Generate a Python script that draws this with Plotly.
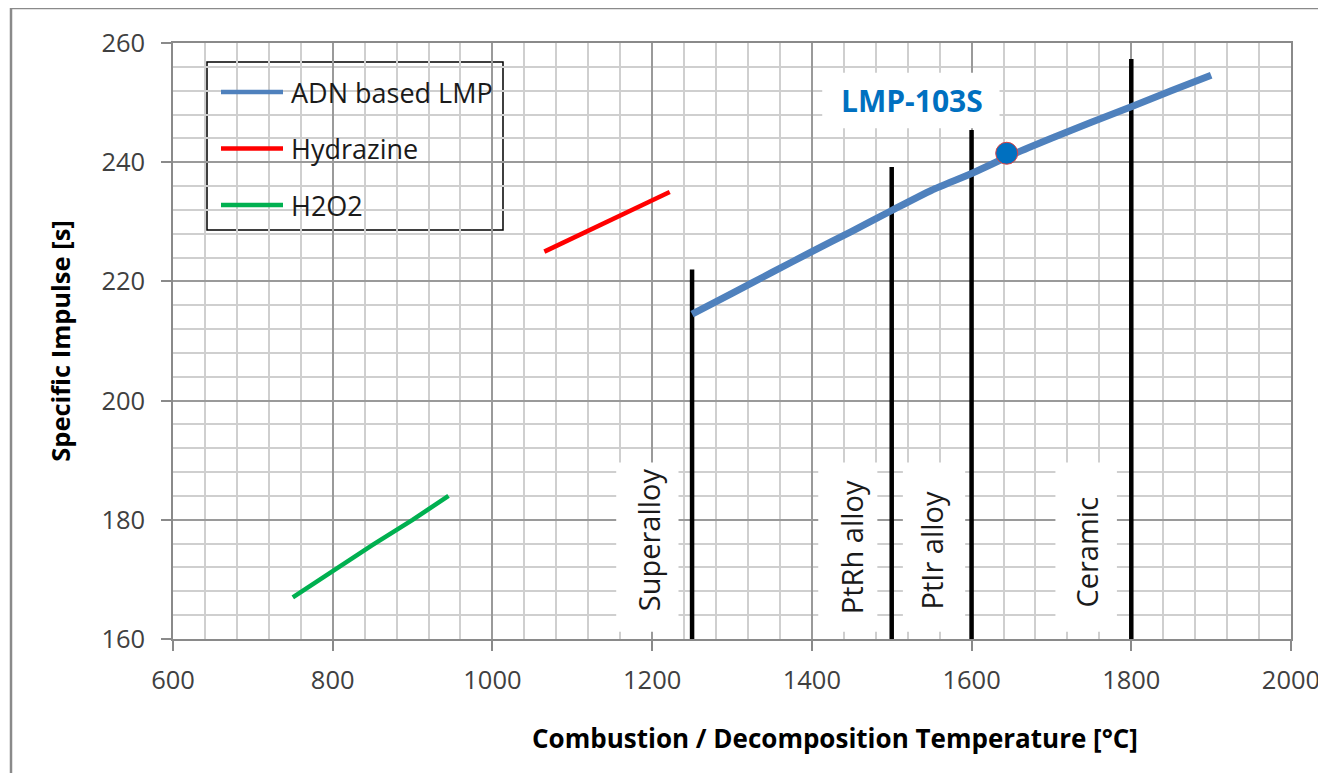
import plotly.graph_objects as go

# ---- data ----
adn_temp = [1250, 1300, 1350, 1400, 1450, 1500, 1550, 1600, 1650, 1700, 1750, 1800, 1850, 1900]
adn_isp = [214.5, 218.0, 221.5, 225.0, 228.4, 231.9, 235.3, 238.1, 241.2, 244.0, 246.7, 249.3, 252.0, 254.6]

hyd_temp = [1065, 1222]
hyd_isp = [225.0, 235.0]

h2o2_temp = [750, 800, 850, 900, 945]
h2o2_isp = [167.0, 171.5, 175.8, 180.0, 184.0]

lmp_temp = [1644]
lmp_isp = [241.5]
lmp_label = "LMP-103S"

limit_temp = [1250, 1500, 1600, 1800]
limit_top = [222.0, 239.2, 245.4, 257.3]
limit_names = ["Superalloy", "PtRh alloy", "PtIr alloy", "Ceramic"]
limit_label_x = [1195, 1449, 1550, 1744]
limit_label_y = [176.6, 175.4, 174.8, 174.6]
limit_box_x0 = [1155, 1408, 1514, 1705]
limit_box_x1 = [1233, 1482, 1592, 1782]

series_names = ["ADN based LMP", "Hydrazine", "H2O2"]
series_colors = ["#4F81BD", "#FF0000", "#00B050"]

x_ticks = [600, 800, 1000, 1200, 1400, 1600, 1800, 2000]
y_ticks = [160, 180, 200, 220, 240, 260]

FONT = "Open Sans"
Y0 = y_ticks[0]

fig = go.Figure()

# material limit lines
lx, ly = [], []
for t, top in zip(limit_temp, limit_top):
    lx += [t, t, None]
    ly += [Y0, top, None]
fig.add_trace(go.Scatter(x=lx, y=ly, mode="lines", line=dict(color="black", width=4.5),
                         showlegend=False, hoverinfo="skip"))

fig.add_trace(go.Scatter(x=h2o2_temp, y=h2o2_isp, mode="lines", name=series_names[2],
                         line=dict(color=series_colors[2], width=4.5), showlegend=False))
fig.add_trace(go.Scatter(x=hyd_temp, y=hyd_isp, mode="lines", name=series_names[1],
                         line=dict(color=series_colors[1], width=4.5), showlegend=False))
fig.add_trace(go.Scatter(x=adn_temp, y=adn_isp, mode="lines", name=series_names[0],
                         line=dict(color=series_colors[0], width=7, shape="spline", smoothing=0.6),
                         showlegend=False))
fig.add_trace(go.Scatter(x=lmp_temp, y=lmp_isp, mode="markers", name=lmp_label,
                         marker=dict(size=22, color="#0070C0", line=dict(color="#E04040", width=1)),
                         showlegend=False))

shapes = []
annotations = []

# white label boxes behind rotated texts
for x0, x1 in zip(limit_box_x0, limit_box_x1):
    shapes.append(dict(type="rect", xref="x", yref="y", x0=x0, x1=x1, y0=161.2, y1=189.6,
                       fillcolor="white", line=dict(width=0), layer="between"))
for name, x, y in zip(limit_names, limit_label_x, limit_label_y):
    annotations.append(dict(x=x, y=y, xref="x", yref="y", text=name, textangle=-90,
                            showarrow=False, font=dict(family=FONT, size=29, color="#1a1a1a")))

# LMP-103S label
shapes.append(dict(type="rect", xref="x", yref="y", x0=1413, x1=1635, y0=245.7, y1=255.0,
                   fillcolor="white", line=dict(width=0), layer="between"))
annotations.append(dict(x=1525, y=250.4, xref="x", yref="y", text="<b>" + lmp_label + "</b>",
                        showarrow=False, font=dict(family=FONT, size=30, color="#0070C0")))

# plot-area geometry (reference pixel coordinates; page has an 8px body margin)
OFF = 8
PL, PW, PT, PH = 173, 1118, 43, 596
def px(xp):
    return (xp - PL) / PW
def py(yp):
    return (PT + PH - yp) / PH

# manual legend
shapes.append(dict(type="rect", xref="paper", yref="paper", x0=px(207), x1=px(503),
                   y0=py(230), y1=py(62), fillcolor="white", line=dict(color="black", width=1.5),
                   layer="between"))
for i, (nm, col) in enumerate(zip(series_names, series_colors)):
    yy = 92 + i * 56.5
    shapes.append(dict(type="line", xref="paper", yref="paper", x0=px(221), x1=px(283),
                       y0=py(yy), y1=py(yy), line=dict(color=col, width=4.5), layer="above"))
    annotations.append(dict(x=px(289), y=py(yy), xref="paper", yref="paper", text=nm,
                            xanchor="left", yanchor="middle", showarrow=False,
                            font=dict(family=FONT, size=27, color="#1a1a1a")))

# x-axis title
annotations.append(dict(x=px(835), y=py(738), xref="paper", yref="paper",
                        text="<b>Combustion / Decomposition Temperature [°C]</b>",
                        showarrow=False, xanchor="center", yanchor="middle",
                        font=dict(family=FONT, size=26, color="#000000")))

# outer chart border
shapes.append(dict(type="rect", xref="paper", yref="paper", x0=px(11), x1=px(1340),
                   y0=py(795), y1=py(8), line=dict(color="#8a8a8a", width=2.5),
                   fillcolor="rgba(0,0,0,0)", layer="below"))

W, H = 1326 - 2 * OFF + 3, 781 - 2 * OFF
fig.update_layout(
    width=W, height=H,
    margin=dict(l=PL - OFF, r=W - (PL - OFF) - PW, t=PT - OFF, b=H - (PT - OFF) - PH,
                autoexpand=False),
    paper_bgcolor="white", plot_bgcolor="white",
    showlegend=False,
    font=dict(family=FONT, size=26, color="#404040"),
    shapes=shapes, annotations=annotations,
    xaxis=dict(range=[600, 2000], tickvals=x_ticks, ticks="outside", ticklen=10,
               tickcolor="#8a8a8a", tickwidth=1.5, automargin=False,
               showgrid=True, gridcolor="#9a9a9a", gridwidth=1.5,
               minor=dict(dtick=40, tick0=600, showgrid=True, gridcolor="#cfcfcf", gridwidth=1.5),
               showline=True, linecolor="#8a8a8a", linewidth=1.5, mirror=True,
               zeroline=False, ticklabelstandoff=8, ticklabeloverflow="allow",
               tickfont=dict(family=FONT, size=25.5, color="#404040")),
    yaxis=dict(range=[160, 260], tickvals=y_ticks, ticks="outside", ticklen=10,
               tickcolor="#8a8a8a", tickwidth=1.5, automargin=False,
               showgrid=True, gridcolor="#9a9a9a", gridwidth=1.5,
               minor=dict(dtick=4, tick0=160, showgrid=True, gridcolor="#cfcfcf", gridwidth=1.5),
               showline=True, linecolor="#8a8a8a", linewidth=1.5, mirror=True,
               zeroline=False, ticklabelstandoff=11,
               tickfont=dict(family=FONT, size=25.5, color="#404040"),
               title=dict(text="<b>Specific Impulse [s]</b>",
                          font=dict(family=FONT, size=25.5, color="#000000"), standoff=23)),
)

fig.write_html("out.html")
